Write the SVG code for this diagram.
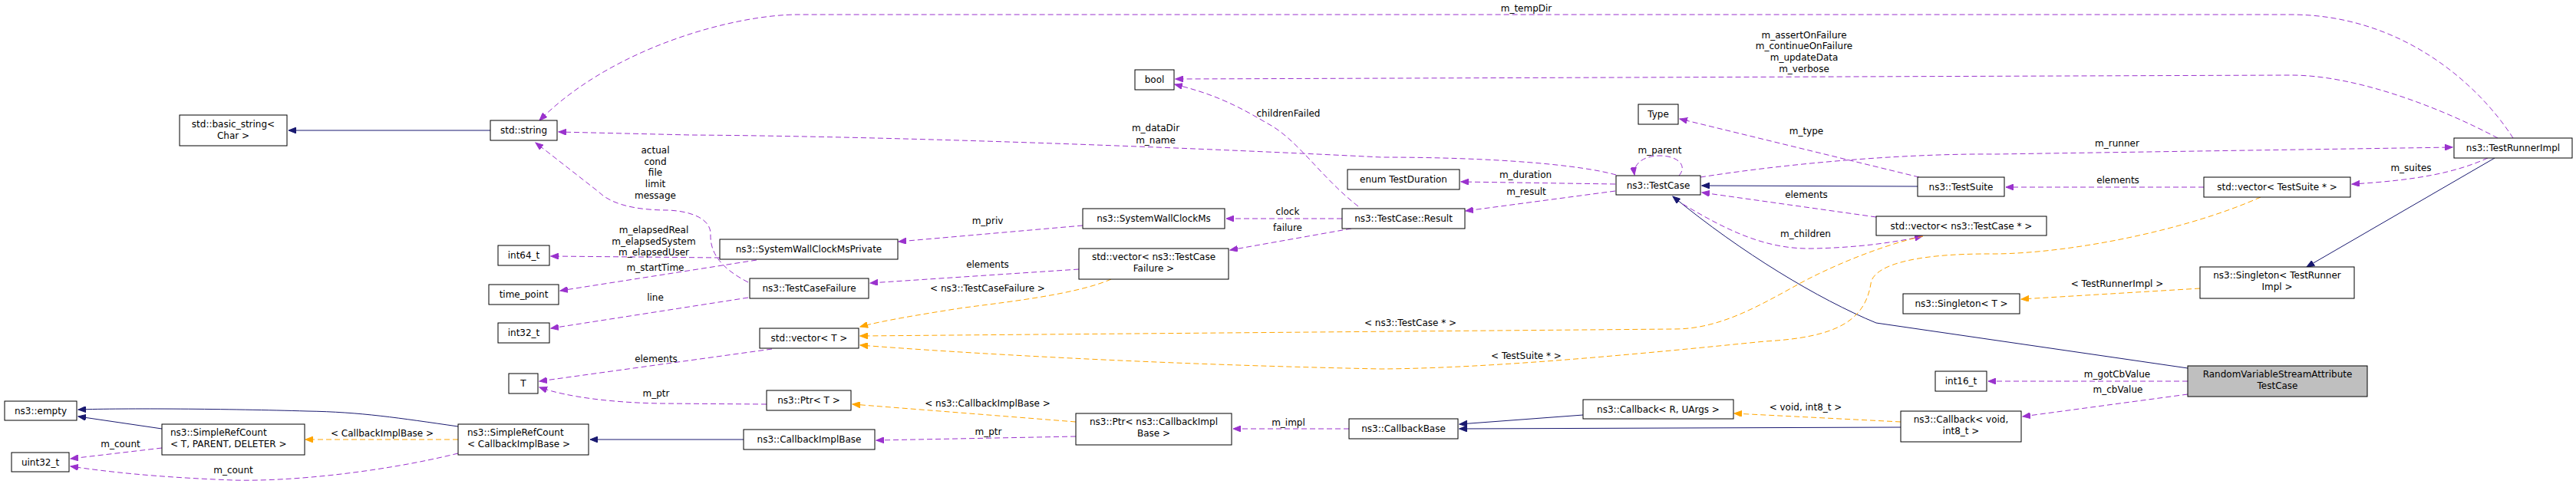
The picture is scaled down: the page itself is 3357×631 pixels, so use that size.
<svg xmlns="http://www.w3.org/2000/svg" width="3357" height="631" viewBox="0 0 3357 631">
<style>
text{font-family:"DejaVu Sans",sans-serif;font-size:12px;fill:#000}
.n rect{fill:#fff;stroke:#000;stroke-width:1}
.n text{text-anchor:middle}
.n text.l{text-anchor:start}
.hl rect{fill:#bfbfbf}
.p{fill:none;stroke:#9a32cd;stroke-dasharray:7,4;marker-end:url(#mp)}
.o{fill:none;stroke:#ffa500;stroke-dasharray:7,4;marker-end:url(#mo)}
.v{fill:none;stroke:#191970;marker-end:url(#mv)}
.lb text{text-anchor:middle}
</style>
<defs>
<marker id="mp" markerUnits="userSpaceOnUse" markerWidth="11" markerHeight="8" refX="10" refY="4" orient="auto"><path d="M0,0 L10,4 L0,8 z" fill="#9a32cd" stroke="#9a32cd"/></marker>
<marker id="mo" markerUnits="userSpaceOnUse" markerWidth="11" markerHeight="8" refX="10" refY="4" orient="auto"><path d="M0,0 L10,4 L0,8 z" fill="#ffa500" stroke="#ffa500"/></marker>
<marker id="mv" markerUnits="userSpaceOnUse" markerWidth="11" markerHeight="8" refX="10" refY="4" orient="auto"><path d="M0,0 L10,4 L0,8 z" fill="#191970" stroke="#191970"/></marker>
</defs>
<g id="edges">
<path class="v" d="M639,170 L376,170"/>
<path class="p" d="M3275,180 C3230,110 3130,19 2985,19 L1040,19 C960,19 800,60 703,157"/>
<path class="p" d="M3255,180 C3180,140 3070,98 2986,98 L1532,103"/>
<path class="p" d="M2106,228 C2060,215 1950,205 1800,205 C1600,195 1200,178 900,176 L728,172"/>
<path class="v" d="M2851,480 L2445,421 C2370,390 2270,330 2180,256"/>
<path class="p" d="M2216,231 C2350,210 2500,200 2600,201 L3196,192"/>
<path class="p" d="M2501,231 L2189,155"/>
<path class="p" d="M2188,229 C2200,215 2185,203 2163,203 C2140,203 2128,215 2130,228"/>
<path class="p" d="M2105,240 L1904,237"/>
<path class="p" d="M2105,249 L1910,275"/>
<path class="v" d="M2499,243 L2218,242"/>
<path class="p" d="M2445,283 L2218,251"/>
<path class="p" d="M2193,266 C2250,300 2300,325 2361,324 C2420,323 2470,316 2505,308"/>
<path class="p" d="M3242,206 C3200,225 3150,235 3065,240"/>
<path class="p" d="M2872,244 L2614,244"/>
<path class="v" d="M3251,206 L3006,348"/>
<path class="o" d="M2867,376 L2634,390"/>
<path class="o" d="M2946,257 C2850,300 2700,330 2600,331 C2480,330 2440,350 2438,370 C2430,420 2390,440 2300,445 C2150,460 1950,480 1800,481 C1500,475 1250,460 1121,450"/>
<path class="o" d="M2506,308 C2450,320 2380,350 2341,372 C2290,400 2240,429 2182,429 L1121,438"/>
<path class="o" d="M1448,364 C1400,385 1300,395 1250,402 C1200,410 1150,418 1121,426"/>
<path class="p" d="M1749,285 L1598,285"/>
<path class="p" d="M1761,298 L1603,326"/>
<path class="p" d="M1770,269 C1720,230 1690,180 1650,160 C1600,130 1570,120 1531,110"/>
<path class="p" d="M1411,294 L1171,315"/>
<path class="p" d="M1406,351 L1134,369"/>
<path class="p" d="M975,368 C940,350 925,330 926,305 C926,285 900,275 870,274 C840,274 800,270 780,250 L698,186"/>
<path class="p" d="M938,336 L718,334"/>
<path class="p" d="M986,339 L730,379"/>
<path class="p" d="M975,388 L718,428"/>
<path class="p" d="M1006,455 L703,497"/>
<path class="p" d="M999,527 L861,526 C800,525 740,518 703,505"/>
<path class="o" d="M1402,550 L1111,527"/>
<path class="p" d="M1402,569 L1142,574"/>
<path class="p" d="M1758,559 L1607,559"/>
<path class="v" d="M969,573 L769,573"/>
<path class="v" d="M597,556 C520,545 470,537 400,536 C300,533 160,532 102,534"/>
<path class="v" d="M211,559 L102,543"/>
<path class="o" d="M597,573 L398,573"/>
<path class="p" d="M211,584 L92,598"/>
<path class="p" d="M597,591 C500,615 380,628 304,626 C200,622 140,615 92,608"/>
<path class="v" d="M2063,541 L1902,553"/>
<path class="v" d="M2477,557 L1902,559"/>
<path class="o" d="M2477,550 L2260,539"/>
<path class="p" d="M2851,497 L2591,497"/>
<path class="p" d="M2851,514 L2636,543"/>
</g>
<g class="lb" id="labels">
<text x="1989" y="15">m_tempDir</text>
<text x="2351" y="50">m_assertOnFailure</text>
<text x="2351" y="64">m_continueOnFailure</text>
<text x="2351" y="79">m_updateData</text>
<text x="2351" y="94">m_verbose</text>
<text x="1506" y="171">m_dataDir</text>
<text x="1506" y="187">m_name</text>
<text x="2759" y="191">m_runner</text>
<text x="2354" y="175">m_type</text>
<text x="2163" y="200">m_parent</text>
<text x="1988" y="232">m_duration</text>
<text x="1989" y="254">m_result</text>
<text x="2354" y="258">elements</text>
<text x="2353" y="309">m_children</text>
<text x="3142" y="223">m_suites</text>
<text x="2760" y="239">elements</text>
<text x="2759" y="374">&lt; TestRunnerImpl &gt;</text>
<text x="1989" y="468">&lt; TestSuite * &gt;</text>
<text x="1838" y="425">&lt; ns3::TestCase * &gt;</text>
<text x="1287" y="380">&lt; ns3::TestCaseFailure &gt;</text>
<text x="1678" y="280">clock</text>
<text x="1678" y="301">failure</text>
<text x="1679" y="152">childrenFailed</text>
<text x="1287" y="292">m_priv</text>
<text x="1287" y="349">elements</text>
<text x="854" y="200">actual</text>
<text x="854" y="215">cond</text>
<text x="854" y="229">file</text>
<text x="854" y="244">limit</text>
<text x="854" y="259">message</text>
<text x="852" y="304">m_elapsedReal</text>
<text x="852" y="319">m_elapsedSystem</text>
<text x="852" y="333">m_elapsedUser</text>
<text x="854" y="353">m_startTime</text>
<text x="854" y="392">line</text>
<text x="855" y="472">elements</text>
<text x="855" y="517">m_ptr</text>
<text x="1287" y="530">&lt; ns3::CallbackImplBase &gt;</text>
<text x="1288" y="567">m_ptr</text>
<text x="1679" y="555">m_impl</text>
<text x="498" y="569">&lt; CallbackImplBase &gt;</text>
<text x="157" y="583">m_count</text>
<text x="304" y="617">m_count</text>
<text x="2353" y="535">&lt; void, int8_t &gt;</text>
<text x="2759" y="492">m_gotCbValue</text>
<text x="2760" y="512">m_cbValue</text>
</g>
<g id="n_rv" class="n hl"><rect x="2851" y="477" width="234" height="40"/><text x="2968" y="492">RandomVariableStreamAttribute</text><text x="2968" y="507">TestCase</text></g>
<g id="n_testcase" class="n"><rect x="2106" y="229" width="110" height="25"/><text x="2161" y="246">ns3::TestCase</text></g>
<g id="n_string" class="n"><rect x="639" y="157" width="87" height="26"/><text x="682.5" y="174">std::string</text></g>
<g id="n_basic" class="n"><rect x="234" y="150" width="140" height="40"/><text x="304" y="166">std::basic_string&lt;</text><text x="304" y="181">Char &gt;</text></g>
<g id="n_int64" class="n"><rect x="649" y="320" width="67" height="26"/><text x="682.5" y="337">int64_t</text></g>
<g id="n_timepoint" class="n"><rect x="637" y="371" width="91" height="26"/><text x="682.5" y="388">time_point</text></g>
<g id="n_int32" class="n"><rect x="649" y="421" width="67" height="26"/><text x="682.5" y="438">int32_t</text></g>
<g id="n_T" class="n"><rect x="663" y="487" width="38" height="26"/><text x="682" y="504">T</text></g>
<g id="n_empty" class="n"><rect x="6" y="523" width="94" height="25"/><text x="53" y="540">ns3::empty</text></g>
<g id="n_srcT" class="n"><rect x="211" y="553" width="186" height="40"/><text class="l" x="222" y="568">ns3::SimpleRefCount</text><text class="l" x="222" y="583">&lt; T, PARENT, DELETER &gt;</text></g>
<g id="n_uint32" class="n"><rect x="15" y="590" width="75" height="25"/><text x="52.5" y="607">uint32_t</text></g>
<g id="n_srcCB" class="n"><rect x="597" y="553" width="170" height="40"/><text class="l" x="609" y="568">ns3::SimpleRefCount</text><text class="l" x="609" y="583">&lt; CallbackImplBase &gt;</text></g>
<g id="n_bool" class="n"><rect x="1479" y="91" width="51" height="26"/><text x="1504.5" y="108">bool</text></g>
<g id="n_enum" class="n"><rect x="1756" y="221" width="146" height="26"/><text x="1829" y="238">enum TestDuration</text></g>
<g id="n_swc" class="n"><rect x="1411" y="272" width="185" height="26"/><text x="1503.5" y="289">ns3::SystemWallClockMs</text></g>
<g id="n_result" class="n"><rect x="1749" y="272" width="160" height="26"/><text x="1829" y="289">ns3::TestCase::Result</text></g>
<g id="n_swcp" class="n"><rect x="938" y="312" width="232" height="26"/><text x="1054" y="329">ns3::SystemWallClockMsPrivate</text></g>
<g id="n_tcf" class="n"><rect x="977" y="363" width="155" height="26"/><text x="1054.5" y="380">ns3::TestCaseFailure</text></g>
<g id="n_vtcf" class="n"><rect x="1406" y="324" width="195" height="40"/><text x="1503.5" y="339">std::vector&lt; ns3::TestCase</text><text x="1503.5" y="354">Failure &gt;</text></g>
<g id="n_vT" class="n"><rect x="990" y="428" width="129" height="26"/><text x="1054.5" y="445">std::vector&lt; T &gt;</text></g>
<g id="n_ptrT" class="n"><rect x="999" y="509" width="110" height="26"/><text x="1054" y="526">ns3::Ptr&lt; T &gt;</text></g>
<g id="n_cib" class="n"><rect x="969" y="560" width="171" height="26"/><text x="1054.5" y="577">ns3::CallbackImplBase</text></g>
<g id="n_ptrcib" class="n"><rect x="1402" y="539" width="203" height="41"/><text x="1503.5" y="554">ns3::Ptr&lt; ns3::CallbackImpl</text><text x="1503.5" y="569">Base &gt;</text></g>
<g id="n_cbbase" class="n"><rect x="1758" y="546" width="142" height="26"/><text x="1829" y="563">ns3::CallbackBase</text></g>
<g id="n_type" class="n"><rect x="2135" y="136" width="52" height="26"/><text x="2161" y="153">Type</text></g>
<g id="n_suite" class="n"><rect x="2499" y="231" width="113" height="25"/><text x="2555.5" y="248">ns3::TestSuite</text></g>
<g id="n_vtc" class="n"><rect x="2445" y="282" width="222" height="25"/><text x="2556" y="299">std::vector&lt; ns3::TestCase * &gt;</text></g>
<g id="n_singT" class="n"><rect x="2480" y="383" width="152" height="26"/><text x="2556" y="400">ns3::Singleton&lt; T &gt;</text></g>
<g id="n_int16" class="n"><rect x="2522" y="484" width="67" height="26"/><text x="2555.5" y="501">int16_t</text></g>
<g id="n_cbR" class="n"><rect x="2063" y="521" width="196" height="25"/><text x="2161" y="538">ns3::Callback&lt; R, UArgs &gt;</text></g>
<g id="n_cbv" class="n"><rect x="2477" y="536" width="157" height="40"/><text x="2555.5" y="551">ns3::Callback&lt; void,</text><text x="2555.5" y="566">int8_t &gt;</text></g>
<g id="n_runner" class="n"><rect x="3198" y="180" width="154" height="26"/><text x="3275" y="197">ns3::TestRunnerImpl</text></g>
<g id="n_vts" class="n"><rect x="2872" y="231" width="191" height="26"/><text x="2967.5" y="248">std::vector&lt; TestSuite * &gt;</text></g>
<g id="n_singR" class="n"><rect x="2867" y="348" width="201" height="41"/><text x="2967.5" y="363">ns3::Singleton&lt; TestRunner</text><text x="2967.5" y="378">Impl &gt;</text></g>
</svg>
